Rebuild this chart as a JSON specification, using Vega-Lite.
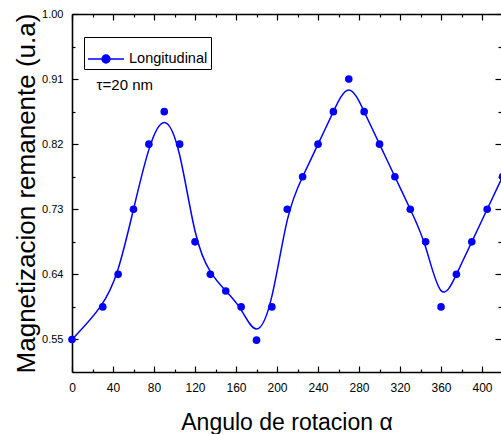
{
  "$schema": "https://vega.github.io/schema/vega-lite/v6.json",
  "width": 429,
  "height": 358,
  "autosize": {"type": "none"},
  "padding": {"left": 72, "top": 14, "right": 0, "bottom": 62},
  "background": "white",
  "config": {
    "view": {"stroke": null},
    "font": "Liberation Sans",
    "axis": {
      "grid": false,
      "domainColor": "black",
      "domainWidth": 1.6,
      "tickColor": "black",
      "tickWidth": 1.2,
      "labelColor": "black",
      "titleColor": "black",
      "labelFont": "Liberation Sans",
      "titleFont": "Liberation Sans",
      "titleFontWeight": "normal",
      "labelOverlap": false,
      "labelFlush": false
    }
  },
  "datasets": {
    "remanencia": [
      {"angulo": 0, "mr": 0.55, "serie": "Longitudinal"},
      {"angulo": 30, "mr": 0.595, "serie": "Longitudinal"},
      {"angulo": 45, "mr": 0.64, "serie": "Longitudinal"},
      {"angulo": 60, "mr": 0.73, "serie": "Longitudinal"},
      {"angulo": 75, "mr": 0.82, "serie": "Longitudinal"},
      {"angulo": 90, "mr": 0.865, "serie": "Longitudinal"},
      {"angulo": 105, "mr": 0.82, "serie": "Longitudinal"},
      {"angulo": 120, "mr": 0.685, "serie": "Longitudinal"},
      {"angulo": 135, "mr": 0.64, "serie": "Longitudinal"},
      {"angulo": 150, "mr": 0.617, "serie": "Longitudinal"},
      {"angulo": 165, "mr": 0.595, "serie": "Longitudinal"},
      {"angulo": 180, "mr": 0.549, "serie": "Longitudinal"},
      {"angulo": 195, "mr": 0.595, "serie": "Longitudinal"},
      {"angulo": 210, "mr": 0.73, "serie": "Longitudinal"},
      {"angulo": 225, "mr": 0.775, "serie": "Longitudinal"},
      {"angulo": 240, "mr": 0.82, "serie": "Longitudinal"},
      {"angulo": 255, "mr": 0.865, "serie": "Longitudinal"},
      {"angulo": 270, "mr": 0.91, "serie": "Longitudinal"},
      {"angulo": 285, "mr": 0.865, "serie": "Longitudinal"},
      {"angulo": 300, "mr": 0.82, "serie": "Longitudinal"},
      {"angulo": 315, "mr": 0.775, "serie": "Longitudinal"},
      {"angulo": 330, "mr": 0.73, "serie": "Longitudinal"},
      {"angulo": 345, "mr": 0.685, "serie": "Longitudinal"},
      {"angulo": 360, "mr": 0.595, "serie": "Longitudinal"},
      {"angulo": 375, "mr": 0.64, "serie": "Longitudinal"},
      {"angulo": 390, "mr": 0.685, "serie": "Longitudinal"},
      {"angulo": 405, "mr": 0.73, "serie": "Longitudinal"},
      {"angulo": 420, "mr": 0.775, "serie": "Longitudinal"}
    ]
  },
  "data": {"name": "remanencia"},
  "layer": [
    {
      "mark": {"type": "line", "interpolate": "basis", "strokeWidth": 1.5},
      "encoding": {
        "x": {
          "field": "angulo",
          "type": "quantitative",
          "scale": {"domain": [0, 418.5], "nice": false, "zero": false},
          "axis": {
            "orient": "bottom",
            "values": [0, 20, 40, 60, 80, 100, 120, 140, 160, 180, 200, 220, 240, 260, 280, 300, 320, 340, 360, 380, 400],
            "labelExpr": "datum.value % 40 === 0 ? datum.label : ''",
            "tickSize": {"condition": {"test": "datum.value % 40 === 0", "value": -6}, "value": -3},
            "labelFontSize": 12,
            "labelPadding": 16,
            "title": "Angulo de rotacion α",
            "titleFontSize": 23,
            "titlePadding": 15
          }
        },
        "y": {
          "field": "mr",
          "type": "quantitative",
          "scale": {"domain": [0.505, 1.0], "nice": false, "zero": false},
          "axis": {
            "orient": "left",
            "values": [0.55, 0.595, 0.64, 0.685, 0.73, 0.775, 0.82, 0.865, 0.91, 0.955, 1.0],
            "labelExpr": "indexof([0.55, 0.64, 0.73, 0.82, 0.91, 1.0], datum.value) >= 0 ? format(datum.value, '.2f') : ''",
            "tickSize": {"condition": {"test": "indexof([0.55, 0.64, 0.73, 0.82, 0.91, 1.0], datum.value) >= 0", "value": -6}, "value": -3},
            "labelFontSize": 11,
            "labelPadding": 15,
            "title": "Magnetizacion remanente (u.a)",
            "titleFontSize": 26,
            "titlePadding": 2
          }
        },
        "color": {
          "field": "serie",
          "type": "nominal",
          "scale": {"range": ["#0000ff"]},
          "legend": {
            "orient": "none",
            "legendX": 12,
            "legendY": 23,
            "title": null,
            "strokeColor": "black",
            "fillColor": "white",
            "padding": 3,
            "cornerRadius": 0,
            "labelFont": "Liberation Sans",
            "labelFontSize": 14.5,
            "labelColor": "black",
            "labelOffset": 4,
            "symbolType": "M-1,0L1,0M0.22,0A0.22,0.22,0,1,1,-0.22,0A0.22,0.22,0,1,1,0.22,0Z",
            "symbolSize": 1296,
            "symbolStrokeWidth": 1.5,
            "symbolFillColor": "#0000ff",
            "symbolStrokeColor": "#0000ff"
          }
        }
      }
    },
    {
      "mark": {"type": "point", "filled": true, "size": 58, "opacity": 1},
      "encoding": {
        "x": {
          "field": "angulo",
          "type": "quantitative",
          "scale": {"domain": [0, 418.5], "nice": false, "zero": false},
          "axis": {
            "orient": "top",
            "values": [0, 20, 40, 60, 80, 100, 120, 140, 160, 180, 200, 220, 240, 260, 280, 300, 320, 340, 360, 380, 400],
            "labels": false,
            "title": null,
            "tickSize": {"condition": {"test": "datum.value % 40 === 0", "value": -6}, "value": -3}
          }
        },
        "y": {
          "field": "mr",
          "type": "quantitative",
          "scale": {"domain": [0.505, 1.0], "nice": false, "zero": false},
          "axis": {
            "orient": "right",
            "domain": false,
            "values": [0.55, 0.595, 0.64, 0.685, 0.73, 0.775, 0.82, 0.865, 0.91, 0.955, 1.0],
            "labels": false,
            "title": null,
            "tickSize": {"condition": {"test": "indexof([0.55, 0.64, 0.73, 0.82, 0.91, 1.0], datum.value) >= 0", "value": -6}, "value": -3}
          }
        },
        "color": {"field": "serie", "type": "nominal", "scale": {"range": ["#0000ff"]}}
      }
    },
    {
      "data": {"values": [{}]},
      "mark": {"type": "text", "align": "left", "baseline": "middle", "fontSize": 15, "font": "Liberation Sans", "color": "black"},
      "encoding": {
        "x": {"datum": 24, "type": "quantitative", "axis": null, "scale": {"domain": [0, 418.5], "nice": false, "zero": false}},
        "y": {"datum": 0.902, "type": "quantitative", "axis": null, "scale": {"domain": [0.505, 1.0], "nice": false, "zero": false}},
        "text": {"value": "τ=20 nm"}
      }
    }
  ],
  "resolve": {"axis": {"x": "independent", "y": "independent"}}
}
